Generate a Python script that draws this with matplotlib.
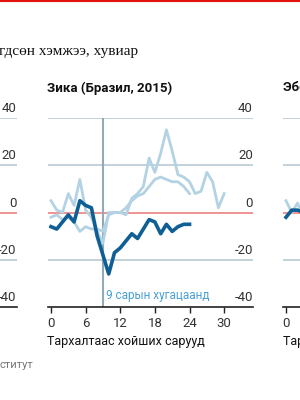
import numpy as np
import matplotlib.pyplot as plt

# Зика (Бразил, 2015) - сар бүрийн өөрчлөлт, %
zika_months = np.arange(0, 31)
zika_main = [-6, -7, -4, -1, -4, 5, 3, 2, -10, -18, -26, -17, -15, -12, -9,
             -11, -7, -3, -4, -9, -5, -8, -6, -5, -5]
zika_a = [5, 1, 0, 8, 3, 14, 1, -2, -8, -13, 0, 0, 0, -1, 6, 8, 11, 23, 17,
          25, 35, 26, 16, 15, 13, 8, 9, 17, 13, 2, 8]
zika_b = [-2, -1, -3, -2, -4, -8, -6, -7, -7, -8, -1, 0, 0, 2, 5, 7, 8, 11,
          14, 15, 14, 13, 13, 11, 8]

# баруун талын самбар (эхний саруудаас л харагдана)
ebola_main = [-2, 1, 1, 0, 1]
ebola_a = [5, 0, 4, -2, 3]

xticks = [0, 6, 12, 18, 24, 30]
ygrid = [-20, 20, 40]
ylabels = ['40', '20', '0', '-20', '-40']
ylabel_vals = [40, 20, 0, -20, -40]

DARK = '#0f5f94'
LIGHT = '#b3d2e3'
GRID = '#b9c9d3'
RED = '#ee8080'
SANS = dict(family='Roboto')

W, H = 300, 400
fig = plt.figure(figsize=(3, 4), dpi=100)


def make_panel(left_px):
    # axes in pixel units of the 300x400 picture
    ax = fig.add_axes([left_px / W, (H - 307) / H, 205 / W, 189 / H])
    ax.set_xlim(-0.52, 35)
    ax.set_ylim(-40, 40)
    for s in ax.spines.values():
        s.set_visible(False)
    for v in ygrid:
        ax.axhline(v, color=GRID, lw=1.2, zorder=1)
    ax.axhline(0, color=RED, lw=1.2, zorder=1)
    ax.axhline(-40, color='#222222', lw=1.2, zorder=3, clip_on=False)
    for lab, v in zip(ylabels, ylabel_vals):
        ax.text(1.0, v + 1.2, lab, transform=ax.get_yaxis_transform(),
                ha='right', va='bottom', fontsize=9.5, color='#333333', **SANS)
    ax.set_yticks([])
    ax.set_xticks(xticks)
    ax.set_xticklabels([str(t) for t in xticks], fontsize=9.5,
                       color='#333333', **SANS)
    ax.tick_params(axis='x', direction='out', length=4, width=1,
                   color='#222222', pad=3)
    ax.patch.set_alpha(0)
    return ax


# left panel (cut off)
make_panel(16.7 - 205)

# middle panel: Зика
ax = make_panel(48)
ax.axvline(9, color='#93a9b8', lw=1.5, zorder=2)
ax.plot(zika_months[:len(zika_a)], zika_a, color=LIGHT, lw=2, zorder=3)
ax.plot(zika_months[:len(zika_b)], zika_b, color=LIGHT, lw=2, zorder=3)
ax.plot(zika_months[:len(zika_main)], zika_main, color=DARK, lw=2.6, zorder=4)
ax.text(9.5, -35, '9 сарын хугацаанд', color='#4a9fd8', fontsize=8.5,
        va='center', **SANS)

# right panel (cut off)
ax2 = make_panel(283)
ax2.plot(np.arange(len(ebola_a)), ebola_a, color=LIGHT, lw=2, zorder=3)
ax2.plot(np.arange(len(ebola_main)), ebola_main, color=DARK, lw=2.6, zorder=4)

# titles and texts
fig.text(-0.003, 1 - 52 / H, 'гдсөн хэмжээ, хувиар', family='Liberation Serif',
         fontsize=11, va='center', ha='left', color='#111111')
fig.text(47 / W, 1 - 88 / H, 'Зика (Бразил, 2015)', fontsize=9.5,
         weight='bold', va='center', color='#111111', **SANS)
fig.text(283 / W, 1 - 88 / H, 'Эбола (Гвиней, 2014)', fontsize=9.5,
         weight='bold', va='center', color='#111111', **SANS)
fig.text(47 / W, 1 - 342 / H, 'Тархалтаас хойших сарууд', fontsize=9,
         va='center', color='#111111', **SANS)
fig.text(283 / W, 1 - 342 / H, 'Тархалтаас хойших сарууд', fontsize=9,
         va='center', color='#111111', **SANS)
fig.text(0, 1 - 365 / H, 'ститут', fontsize=8, va='center', color='#777777',
         **SANS)

# red rule on top
fig.add_artist(plt.Line2D([0, 1], [1 - 0.5 / H, 1 - 0.5 / H], color='#e3120b',
                          lw=1.5))

fig.savefig('out.png', dpi=100)
